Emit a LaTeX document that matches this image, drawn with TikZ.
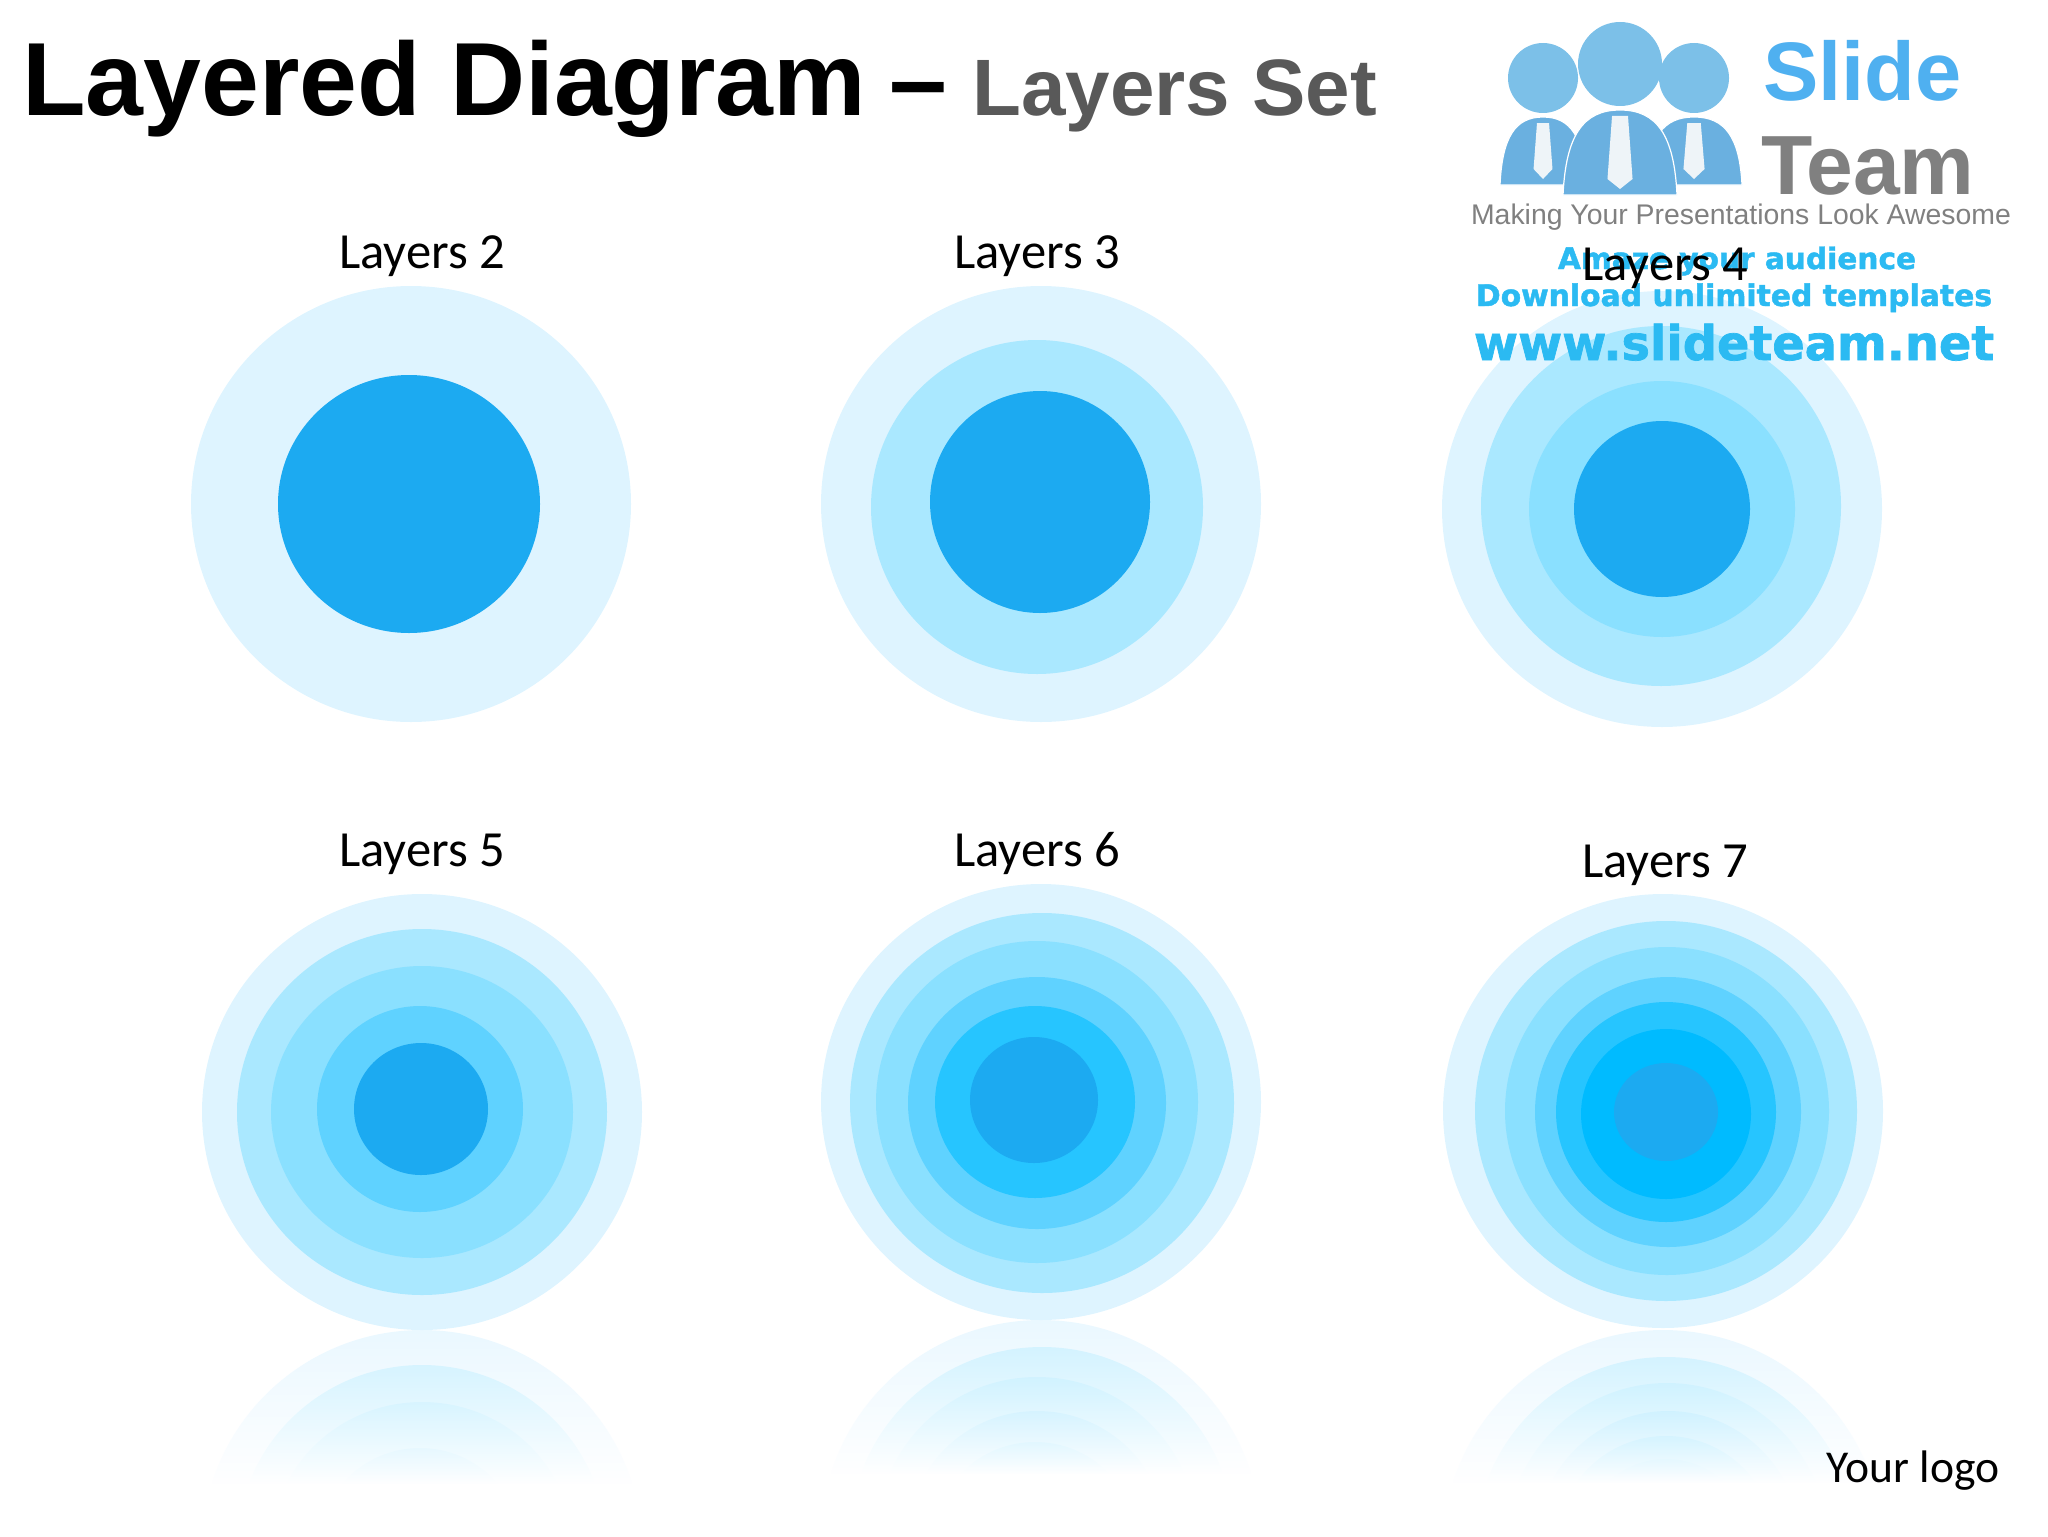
\documentclass[tikz,border=0pt]{standalone}
\usepackage{xcolor}
\usepackage{fontspec}
\usepackage{tikz}
\usetikzlibrary{fadings}
\setmainfont{Carlito}
\newfontfamily\titlefont{Liberation Sans}
\newfontfamily\webfont[BoldFeatures={FakeBold=1.5}]{DejaVu Sans}
\definecolor{ringa}{HTML}{DEF4FF}
\definecolor{ringb}{HTML}{AAE8FF}
\definecolor{ringc}{HTML}{8AE0FF}
\definecolor{ringd}{HTML}{5FD2FF}
\definecolor{ringe}{HTML}{26C5FF}
\definecolor{ringf}{HTML}{00BBFF}
\definecolor{ringcore}{HTML}{1CAAF1}
\definecolor{logohead}{HTML}{7CC0E8}
\definecolor{logobody}{HTML}{6AB0E0}
\definecolor{logotie}{HTML}{EEF4F8}
\definecolor{logoblue}{HTML}{4FB0F0}
\definecolor{webblue}{HTML}{2BBAF2}
\tikzfading[name=reflectfade,top color=transparent!62,middle color=transparent!20,bottom color=transparent!0]
\newcommand{\ringset}[1]{\foreach \cx/\cy/\rx/\ry/\col in #1
  {\fill[\col] (\cx,\cy) ellipse [x radius=\rx,y radius=\ry];}}
\newcommand{\mirrorset}[3]{\begin{scope}
  \clip (#3-240,#2) rectangle (#3+240,#2+160);
  \foreach \cx/\cy/\rx/\ry/\col in #1
    {\fill[\col] (\cx,{2*#2-\cy}) ellipse [x radius=\rx,y radius=\ry];}
  \fill[white,path fading=reflectfade] (#3-240,#2) rectangle (#3+240,#2+155);
  \fill[white] (#3-240,#2+154) rectangle (#3+240,#2+165);
  \end{scope}}
\newcommand{\logoperson}[5]{% x, body top, body bottom, half width, head radius
  \fill[logobody,draw=white,line width=0.6pt] ({#1-#4},#3)
    .. controls ({#1-0.95*#4},{#2+0.3*(#3-#2)}) and ({#1-0.65*#4},#2) .. (#1,#2)
    .. controls ({#1+0.65*#4},#2) and ({#1+0.95*#4},{#2+0.3*(#3-#2)}) .. ({#1+#4},#3) -- cycle;
  \fill[logotie] ({#1-0.14*#4},{#2+6}) -- ({#1+0.14*#4},{#2+6}) -- ({#1+0.22*#4},{#3-16})
    -- (#1,{#3-6}) -- ({#1-0.22*#4},{#3-16}) -- cycle;
  \fill[logohead] (#1,{#2-#5-4}) circle [radius=#5];}

\begin{document}
\begin{tikzpicture}[x=0.5pt,y=-0.5pt,
                    layerlabel/.style={anchor=base,inner sep=0,font=\fontsize{25.3}{28}\selectfont},
                    logoline/.style={anchor=base,inner sep=0,text=webblue}]
\useasboundingbox (0,0) rectangle (2048,1536);
\def\settwo{411/504/220/218/ringa,409/504/131/129/ringcore}
\def\setthree{1041/504/220/218/ringa,1037/507/166/167/ringb,1040/502/110/111/ringcore}
\def\setfour{1662/509/220/218/ringa,1661/506/180/180/ringb,1662/509/133/128/ringc,1662/509/88/88/ringcore}
\def\setfive{422/1112/220/218/ringa,422/1112/185/183/ringb,422/1112/151/146/ringc,420/1109/103/103/ringd,421/1109/67/66/ringcore}
\def\setsix{1041/1102/220/218/ringa,1042/1103/192/190/ringb,1037/1102/161/161/ringc,1037/1103/129/126/ringd,1035/1102/100/96/ringe,1034/1100/64/63/ringcore}
\def\setseven{1663/1111/220/217/ringa,1666/1111/191/190/ringb,1667/1111/162/164/ringc,1668/1112/133/135/ringd,1666/1112/110/110/ringe,1666/1114/85/85/ringf,1666/1112/52/49/ringcore}
% reflections
\mirrorset{\setfive}{1330}{422}
\mirrorset{\setsix}{1320}{1041}
\mirrorset{\setseven}{1329}{1663}
% rings
\ringset{\settwo}
\ringset{\setthree}
\ringset{\setfour}
\ringset{\setfive}
\ringset{\setsix}
\ringset{\setseven}
% title
\node[anchor=base west,inner sep=0,font=\titlefont\bfseries\fontsize{52}{54}\selectfont] (title) at (22,115) {Layered Diagram\kern-3pt{} –};
\node[anchor=base west,inner sep=0,text=black!65,font=\titlefont\bfseries\fontsize{40}{42}\selectfont] (subtitle) at (972,115) {Layers Set};
% logo
\logoperson{1543}{117}{185}{43}{35}
\logoperson{1694}{117}{185}{48}{35}
\logoperson{1620}{110}{195}{57}{42}
\node[anchor=base west,inner sep=0,text=logoblue,font=\titlefont\bfseries\fontsize{41.5}{44}\selectfont] (slide) at (1763,100) {Slide};
\node[anchor=base west,inner sep=0,text=black!50,font=\titlefont\bfseries\fontsize{42}{44}\selectfont] (team) at (1761,194) {Team};
\node[anchor=base,inner sep=0,text=black!50,font=\titlefont\fontsize{14.2}{17}\selectfont] (making) at (1741,224) {Making Your Presentations Look Awesome};
\node[logoline,font=\webfont\bfseries\fontsize{14.8}{16}\selectfont] (amaze) at (1737,269) {Amaze your audience};
\node[logoline,font=\webfont\bfseries\fontsize{14.9}{16}\selectfont] (download) at (1734,306) {Download unlimited templates};
\node[logoline,font=\webfont\bfseries\fontsize{23.9}{26}\selectfont] (web) at (1734,360) {www.slideteam.net};
% labels
\node[layerlabel] (two) at (422,268) {Layers 2};
\node[layerlabel] (three) at (1037,268) {Layers 3};
\node[layerlabel] (four) at (1665,280) {Layers 4};
\node[layerlabel] (five) at (422,866) {Layers 5};
\node[layerlabel] (six) at (1037,866) {Layers 6};
\node[layerlabel] (seven) at (1665,877) {Layers 7};
\node[anchor=base east,inner sep=0,font=\fontsize{22.8}{26}\selectfont] (yourlogo) at (2000,1482) {Your logo};
\end{tikzpicture}
\end{document}
